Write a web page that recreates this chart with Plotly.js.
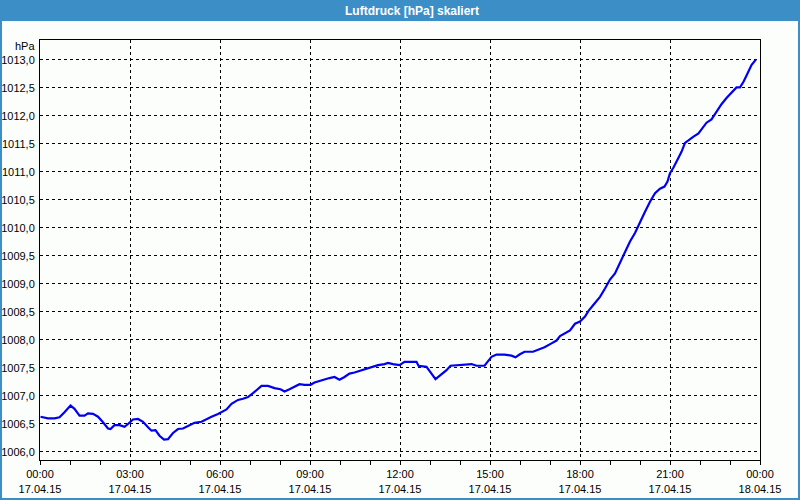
<!DOCTYPE html>
<html>
<head>
<meta charset="utf-8">
<script src="https://cdn.plot.ly/plotly-3.0.1.min.js"></script>
<style>
html,body{margin:0;padding:0;background:#fcfefc;}
#chart{width:800px;height:500px;}
</style>
</head>
<body>
<div id="chart"></div>
<script>
// minutes after 17.04.15 00:00
const minutes = [1,16,29,39,49,61,69,79,89,96,106,116,126,136,141,149,159,169,176,186,196,206,216,223,231,239,248,256,266,276,286,296,309,323,333,343,356,
373,383,396,406,416,426,435,443,456,469,481,489,499,509,519,529,541,549,559,569,579,589,599,609,619,629,639,649,663,676,689,696,706,
719,729,753,757,773,783,791,799,813,821,833,849,863,873,889,895,903,913,929,943,951,959,969,986,996,1009,1023,1033,
1040,1050,1060,1070,1080,1090,1097,1107,1120,1130,1140,1150,1160,1170,1180,1190,1200,1210,1220,1230,1240,1249,1255,1260,1267,1277,1283,1290,1297,1307,1317,1323,1333,1343,1353,1363,1373,1383,1393,1400,1407,1415,1423,1432];
const pressure = [1006.63,1006.60,1006.60,1006.62,1006.71,1006.83,1006.77,1006.65,1006.65,1006.69,1006.68,1006.63,1006.53,1006.42,1006.41,1006.48,1006.48,1006.45,1006.50,1006.58,1006.59,1006.54,1006.44,1006.38,1006.39,1006.29,1006.22,1006.23,1006.34,1006.41,1006.42,1006.47,1006.52,1006.54,1006.59,1006.63,1006.68,
1006.76,1006.86,1006.93,1006.95,1006.98,1007.05,1007.12,1007.18,1007.18,1007.14,1007.12,1007.08,1007.12,1007.16,1007.21,1007.20,1007.20,1007.24,1007.27,1007.30,1007.32,1007.34,1007.29,1007.34,1007.40,1007.42,1007.45,1007.48,1007.52,1007.55,1007.57,1007.59,1007.57,
1007.55,1007.61,1007.61,1007.54,1007.52,1007.40,1007.30,1007.36,1007.46,1007.54,1007.55,1007.57,1007.57,1007.54,1007.54,1007.61,1007.70,1007.74,1007.74,1007.72,1007.69,1007.74,1007.79,1007.79,1007.82,1007.87,1007.94,1007.99,
1008.07,1008.12,1008.17,1008.29,1008.33,1008.42,1008.52,1008.63,1008.77,1008.92,1009.08,1009.19,1009.38,1009.58,1009.76,1009.91,1010.11,1010.29,1010.47,1010.62,1010.70,1010.74,1010.83,1010.98,1011.08,1011.24,1011.36,1011.52,1011.57,1011.63,1011.69,1011.76,1011.88,1011.94,1012.08,1012.21,1012.32,1012.42,1012.51,1012.51,1012.61,1012.76,1012.91,1013.01];

const titleText = "Luftdruck [hPa] skaliert";
const unitText = "hPa";

function toTime(m){
  const d = new Date(Date.UTC(2015,3,17,0,0) + m*60000);
  const p = n => String(n).padStart(2,'0');
  return d.getUTCFullYear()+'-'+p(d.getUTCMonth()+1)+'-'+p(d.getUTCDate())+' '+p(d.getUTCHours())+':'+p(d.getUTCMinutes());
}
const times = minutes.map(toTime);

const W=800,H=500,L=40,R=40,T=40,B=40;
const pw=W-L-R, ph=H-T-B;
const px = x => (x-L)/pw;
const py = y => (H-B-y)/ph;

const border = "#3c8fc6";
const font = "Liberation Sans, Arial, sans-serif";

const trace = {
  x: times, y: pressure, type:'scatter', mode:'lines',
  line:{color:'#0000f0', width:2.2, shape:'linear'},
  hoverinfo:'skip'
};

const layout = {
  width:W, height:H,
  margin:{l:L,r:R,t:T,b:B,pad:0},
  paper_bgcolor:'#fcfefc', plot_bgcolor:'#fcfefc',
  separators:',.',
  showlegend:false,
  font:{family:font, size:11, color:'#000'},
  xaxis:{
    type:'date',
    range:['2015-04-17 00:00','2015-04-18 00:00'],
    tick0:'2015-04-17 00:00', dtick:3*3600000,
    tickformat:'%H:%M<br>%d.%m.%y',
    ticks:'outside', ticklen:4, tickwidth:1, tickcolor:'#000',
    minor:{dtick:3600000, ticks:'outside', ticklen:4, tickcolor:'#000', showgrid:false},
    showline:true, linecolor:'#000', linewidth:1, mirror:true,
    showgrid:true, gridcolor:'#000', gridwidth:1, griddash:'3px,3px',
    zeroline:false,
    tickfont:{family:font, size:11, color:'#000'}
  },
  yaxis:{
    range:[1005.857,1013.357],
    tick0:1006, dtick:0.5, tickformat:'.1f',
    ticks:'', showline:true, linecolor:'#000', linewidth:1, mirror:true,
    showgrid:true, gridcolor:'#000', gridwidth:1, griddash:'3px,3px',
    zeroline:false,
    ticklabelstandoff:2,
    tickfont:{family:font, size:11, color:'#000'}
  },
  shapes:[
    {type:'rect', xref:'paper', yref:'paper', x0:px(0), x1:px(W), y0:py(21), y1:py(0),
     fillcolor:border, line:{width:0}, layer:'above'},
    {type:'rect', xref:'paper', yref:'paper', x0:px(1), x1:px(W-1), y0:py(H-1), y1:py(1),
     fillcolor:'rgba(0,0,0,0)', line:{color:border, width:2}, layer:'above'}
  ],
  annotations:[
    {text:'<b>'+titleText+'</b>', xref:'paper', yref:'paper', x:px(412), y:py(10.5),
     xanchor:'center', yanchor:'middle', showarrow:false,
     font:{family:font, size:12, color:'#ffffff'}},
    {text:unitText, xref:'paper', yref:'paper', x:px(37), y:py(46),
     xanchor:'right', yanchor:'middle', showarrow:false,
     font:{family:font, size:11, color:'#000'}}
  ]
};

Plotly.newPlot('chart',[trace],layout,{displayModeBar:false, staticPlot:true});
</script>
</body>
</html>
